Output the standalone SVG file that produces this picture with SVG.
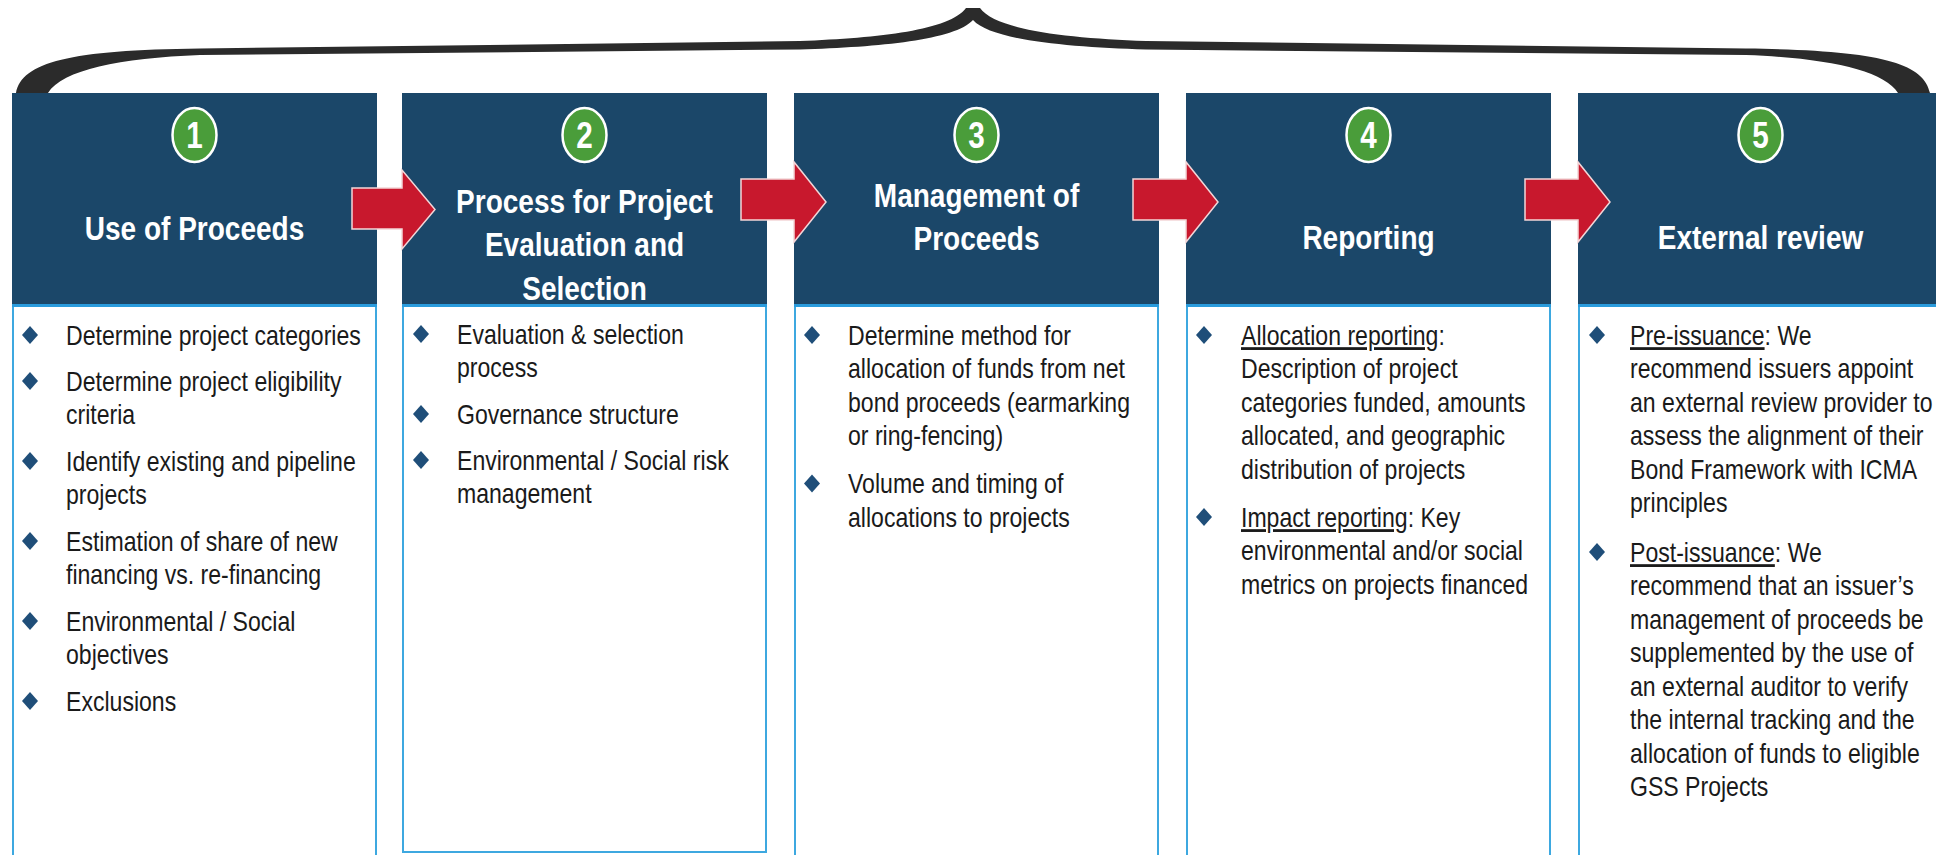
<svg xmlns="http://www.w3.org/2000/svg" xmlns:xlink="http://www.w3.org/1999/xlink" width="1936" height="855" viewBox="0 0 1936 855">
  <style>
    .hdr { fill: #1B4769; }
    .hline { fill: #2A9BDC; }
    .body { fill: #FFFFFF; stroke: #3DA8E0; stroke-width: 2; }
    .badge { fill: #4A9D3A; stroke: #FFFFFF; stroke-width: 2.5; }
    .num { font-family: "Liberation Sans", Arial, sans-serif; font-weight: bold; font-size: 36px; fill: #FFFFFF; text-anchor: middle; }
    .title { font-family: "Liberation Sans", Arial, sans-serif; font-weight: bold; font-size: 34px; fill: #FFFFFF; text-anchor: middle; }
    .txt { font-family: "Liberation Sans", Arial, sans-serif; font-size: 28px; fill: #1A1A1A; }
    .u { text-decoration: underline; }
    .bul { fill: #1F4E79; }
    .arrow { fill: #C8182D; stroke: #F3D6D8; stroke-width: 1.5; stroke-linejoin: miter; }
    .brace { fill: #2B2B2B; }
  </style>
  <defs>
    <path id="dm" d="M0,-9 L8,0 L0,9 L-8,0 Z"/>
    <!-- left half of the curly brace; the right half is its mirror image -->
    <path id="braceHalf" d="M 16 93 C 22 62, 70 50, 200 48.5 L 800 41 C 880 38, 950 30, 966 8 L 973 8 L 973 20 C 955 40, 880 47, 800 49.5 L 200 55 C 120 58, 62 70, 48 93 Z"/>
  </defs>

  <rect x="0" y="0" width="1936" height="855" fill="#FFFFFF"/>

  <!-- brace spanning all five stages -->
  <g id="brace" class="brace">
    <use xlink:href="#braceHalf" href="#braceHalf"/>
    <use xlink:href="#braceHalf" href="#braceHalf" transform="translate(1946,0) scale(-1,1)"/>
  </g>

  <!-- Stage 1 -->
  <g id="stage1">
    <rect class="body" x="13" y="306" width="363" height="560"/>
    <rect class="hdr" x="12" y="93" width="365" height="213"/>
    <rect class="hline" x="12" y="304" width="365" height="3"/>
    <ellipse class="badge" cx="194.5" cy="135" rx="22" ry="27"/>
    <g transform="translate(194.5,0) scale(0.824,1)">
      <text class="num" x="0" y="148">1</text>
      <text class="title" x="0" y="240">Use of Proceeds</text>
    </g>
    <g class="bul">
      <use href="#dm" x="30" y="335"/>
      <use href="#dm" x="30" y="381"/>
      <use href="#dm" x="30" y="461"/>
      <use href="#dm" x="30" y="541"/>
      <use href="#dm" x="30" y="621"/>
      <use href="#dm" x="30" y="701"/>
    </g>
    <g transform="translate(66,0) scale(0.824,1)">
      <text class="txt" x="0" y="345">Determine project categories</text>
      <text class="txt" x="0" y="391">Determine project eligibility</text>
      <text class="txt" x="0" y="424.5">criteria</text>
      <text class="txt" x="0" y="471">Identify existing and pipeline</text>
      <text class="txt" x="0" y="504.5">projects</text>
      <text class="txt" x="0" y="551">Estimation of share of new</text>
      <text class="txt" x="0" y="584.5">financing vs. re-financing</text>
      <text class="txt" x="0" y="631">Environmental / Social</text>
      <text class="txt" x="0" y="664.5">objectives</text>
      <text class="txt" x="0" y="711">Exclusions</text>
    </g>
  </g>

  <!-- Stage 2 -->
  <g id="stage2">
    <rect class="body" x="403" y="306" width="363" height="546"/>
    <rect class="hdr" x="402" y="93" width="365" height="213"/>
    <rect class="hline" x="402" y="304" width="365" height="3"/>
    <ellipse class="badge" cx="584.5" cy="135" rx="22" ry="27"/>
    <g transform="translate(584.5,0) scale(0.824,1)">
      <text class="num" x="0" y="148">2</text>
      <text class="title" x="0" y="213">Process for Project</text>
      <text class="title" x="0" y="256.5">Evaluation and</text>
      <text class="title" x="0" y="300">Selection</text>
    </g>
    <g class="bul">
      <use href="#dm" x="421" y="334"/>
      <use href="#dm" x="421" y="414"/>
      <use href="#dm" x="421" y="460"/>
    </g>
    <g transform="translate(457,0) scale(0.824,1)">
      <text class="txt" x="0" y="344">Evaluation &amp; selection</text>
      <text class="txt" x="0" y="377.5">process</text>
      <text class="txt" x="0" y="424">Governance structure</text>
      <text class="txt" x="0" y="470">Environmental / Social risk</text>
      <text class="txt" x="0" y="503.5">management</text>
    </g>
  </g>

  <!-- Stage 3 -->
  <g id="stage3">
    <rect class="body" x="795" y="306" width="363" height="560"/>
    <rect class="hdr" x="794" y="93" width="365" height="213"/>
    <rect class="hline" x="794" y="304" width="365" height="3"/>
    <ellipse class="badge" cx="976.5" cy="135" rx="22" ry="27"/>
    <g transform="translate(976.5,0) scale(0.824,1)">
      <text class="num" x="0" y="148">3</text>
      <text class="title" x="0" y="207">Management of</text>
      <text class="title" x="0" y="250">Proceeds</text>
    </g>
    <g class="bul">
      <use href="#dm" x="812" y="335"/>
      <use href="#dm" x="812" y="483.5"/>
    </g>
    <g transform="translate(848,0) scale(0.824,1)">
      <text class="txt" x="0" y="345">Determine method for</text>
      <text class="txt" x="0" y="378.5">allocation of funds from net</text>
      <text class="txt" x="0" y="412">bond proceeds (earmarking</text>
      <text class="txt" x="0" y="445.5">or ring-fencing)</text>
      <text class="txt" x="0" y="493.5">Volume and timing of</text>
      <text class="txt" x="0" y="527">allocations to projects</text>
    </g>
  </g>

  <!-- Stage 4 -->
  <g id="stage4">
    <rect class="body" x="1187" y="306" width="363" height="560"/>
    <rect class="hdr" x="1186" y="93" width="365" height="213"/>
    <rect class="hline" x="1186" y="304" width="365" height="3"/>
    <ellipse class="badge" cx="1368.5" cy="135" rx="22" ry="27"/>
    <g transform="translate(1368.5,0) scale(0.824,1)">
      <text class="num" x="0" y="148">4</text>
      <text class="title" x="0" y="249">Reporting</text>
    </g>
    <g class="bul">
      <use href="#dm" x="1204" y="335"/>
      <use href="#dm" x="1204" y="517"/>
    </g>
    <g transform="translate(1241,0) scale(0.824,1)">
      <text class="txt" x="0" y="345"><tspan class="u">Allocation reporting</tspan>:</text>
      <text class="txt" x="0" y="378.5">Description of project</text>
      <text class="txt" x="0" y="412">categories funded, amounts</text>
      <text class="txt" x="0" y="445.5">allocated, and geographic</text>
      <text class="txt" x="0" y="479">distribution of projects</text>
      <text class="txt" x="0" y="527"><tspan class="u">Impact reporting</tspan>: Key</text>
      <text class="txt" x="0" y="560.5">environmental and/or social</text>
      <text class="txt" x="0" y="594">metrics on projects financed</text>
    </g>
  </g>

  <!-- Stage 5 -->
  <g id="stage5">
    <rect class="body" x="1579" y="306" width="363" height="560"/>
    <rect class="hdr" x="1578" y="93" width="365" height="213"/>
    <rect class="hline" x="1578" y="304" width="365" height="3"/>
    <ellipse class="badge" cx="1760.5" cy="135" rx="22" ry="27"/>
    <g transform="translate(1760.5,0) scale(0.824,1)">
      <text class="num" x="0" y="148">5</text>
      <text class="title" x="0" y="249">External review</text>
    </g>
    <g class="bul">
      <use href="#dm" x="1597" y="335"/>
      <use href="#dm" x="1597" y="552"/>
    </g>
    <g transform="translate(1630,0) scale(0.824,1)">
      <text class="txt" x="0" y="345"><tspan class="u">Pre-issuance</tspan>: We</text>
      <text class="txt" x="0" y="378.5">recommend issuers appoint</text>
      <text class="txt" x="0" y="412">an external review provider to</text>
      <text class="txt" x="0" y="445.5">assess the alignment of their</text>
      <text class="txt" x="0" y="479">Bond Framework with ICMA</text>
      <text class="txt" x="0" y="512.5">principles</text>
      <text class="txt" x="0" y="562"><tspan class="u">Post-issuance</tspan>: We</text>
      <text class="txt" x="0" y="595.5">recommend that an issuer’s</text>
      <text class="txt" x="0" y="629">management of proceeds be</text>
      <text class="txt" x="0" y="662.5">supplemented by the use of</text>
      <text class="txt" x="0" y="696">an external auditor to verify</text>
      <text class="txt" x="0" y="729.5">the internal tracking and the</text>
      <text class="txt" x="0" y="763">allocation of funds to eligible</text>
      <text class="txt" x="0" y="796.5">GSS Projects</text>
    </g>
  </g>

  <!-- block arrows between stages -->
  <g id="connectors" class="arrow">
    <polygon points="352,188 402,188 402,170 435,209.5 402,249 402,229 352,229"/>
    <polygon points="741,179 794,179 794,162 826,202 794,242 794,220 741,220"/>
    <polygon points="1133,179 1186,179 1186,162 1218,202 1186,242 1186,220 1133,220"/>
    <polygon points="1525,179 1578,179 1578,162 1610,202 1578,242 1578,220 1525,220"/>
  </g>
</svg>
